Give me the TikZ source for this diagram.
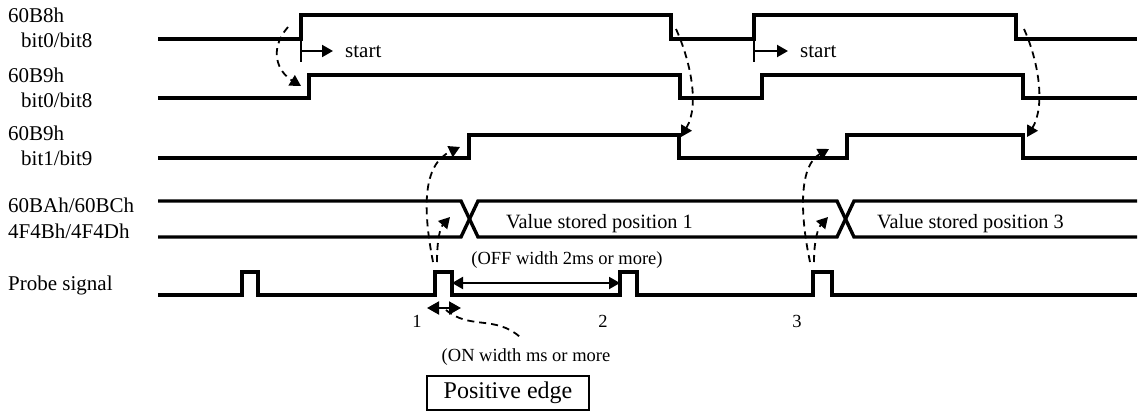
\documentclass[tikz,border=0pt]{standalone}
\usepackage{fontspec}
\setmainfont{Liberation Serif}
\usepackage{tikz}
\usetikzlibrary{arrows.meta}

\begin{document}
\begin{tikzpicture}[x=1pt, y=-1pt, >={Triangle[length=11pt,width=12pt]},
  sig/.style={line width=3.4pt},
  flow/.style={->, line width=1.8pt, dash pattern=on 7pt off 5pt},
  lbl/.style={anchor=base west, inner sep=0pt, font=\fontsize{21}{24}\selectfont},
  note/.style={inner sep=0pt, font=\fontsize{18.5}{22}\selectfont}]
  \useasboundingbox (0,0) rectangle (1139,412);

  % signal names
  \node[lbl] (nA) at (8,23) {60B8h};
  \node[lbl] (nAb) at (21,48) {bit0/bit8};
  \node[lbl] (nB) at (8,82) {60B9h};
  \node[lbl] (nBb) at (21,107) {bit0/bit8};
  \node[lbl] (nC) at (8,140) {60B9h};
  \node[lbl] (nCb) at (21,165) {bit1/bit9};
  \node[lbl] (nD) at (8,212) {60BAh/60BCh};
  \node[lbl] (nDb) at (8,238) {4F4Bh/4F4Dh};
  \node[lbl] (nP) at (8,290) {Probe signal};

  % waveforms
  \draw[sig] (158,39) -- (301,39) -- (301,15) -- (671,15) -- (671,39) -- (754,39) -- (754,15) -- (1016,15) -- (1016,39) -- (1137,39);
  \draw[sig] (158,98) -- (309,98) -- (309,75) -- (680,75) -- (680,98) -- (762,98) -- (762,75) -- (1023,75) -- (1023,98) -- (1137,98);
  \draw[sig] (158,158) -- (469,158) -- (469,135) -- (679,135) -- (679,158) -- (847,158) -- (847,135) -- (1023,135) -- (1023,158) -- (1137,158);
  \draw[sig] (158,201) -- (461,201) -- (478,237) -- (837,237) -- (854,201) -- (1137,201);
  \draw[sig] (158,237) -- (461,237) -- (478,201) -- (837,201) -- (854,237) -- (1137,237);
  \draw[sig] (158,295) -- (242,295) -- (242,272) -- (258,272) -- (258,295) -- (435,295) -- (435,272) -- (452,272) -- (452,295)
    -- (620,295) -- (620,272) -- (637,272) -- (637,295) -- (813,295) -- (813,272) -- (832,272) -- (832,295) -- (1137,295);

  \node[lbl, font=\fontsize{20.3}{24}\selectfont] (v1) at (506,228) {Value stored position 1};
  \node[lbl, font=\fontsize{20.3}{24}\selectfont] (v3) at (877,228) {Value stored position 3};

  % start marks
  \draw[line width=2pt] (301,39) -- (301,62);
  \draw[->, line width=2pt] (301,51) -- (333,51);
  \node[lbl] (s1) at (345,57) {start};
  \draw[line width=2pt] (754,39) -- (754,62);
  \draw[->, line width=2pt] (754,51) -- (788,51);
  \node[lbl] (s2) at (800,57) {start};

  % dashed cause arrows
  \draw[flow] (288,27) .. controls (268,50) and (278,72) .. (301,86);
  \draw[flow] (676,29) .. controls (690,60) and (700,105) .. (681,137);
  \draw[flow] (1024,29) .. controls (1038,60) and (1046,105) .. (1027,137);
  \draw[flow] (433,262) .. controls (423,210) and (422,165) .. (460,147);
  \draw[flow] (437,262) .. controls (437,240) and (440,228) .. (450,217);
  \draw[flow] (810,262) .. controls (799,210) and (800,165) .. (829,149);
  \draw[flow] (814,262) .. controls (814,240) and (818,228) .. (828,217);

  % widths
  \draw[<->, line width=2pt] (452,283) -- (620,283);
  \node[note] (off) at (567,260) {(OFF width 2ms or more)};
  \draw[{Triangle[length=12pt,width=13pt]}-{Triangle[length=12pt,width=13pt]}, line width=2pt] (427,308) -- (461,308);
  \draw[line width=1.8pt, dash pattern=on 7pt off 5pt] (446,310) .. controls (470,330) and (495,315) .. (520,337);
  \node[note] (on) at (526,357) {(ON width ms or more};

  \node[note] (p1) at (417,321) {1};
  \node[note] (p2) at (603,321) {2};
  \node[note] (p3) at (797,321) {3};

  \node[draw, line width=1.2pt, minimum width=162pt, minimum height=34pt, inner sep=0pt,
    font=\fontsize{24}{28}\selectfont] (edge) at (508,393) {Positive edge};
\end{tikzpicture}
\end{document}
